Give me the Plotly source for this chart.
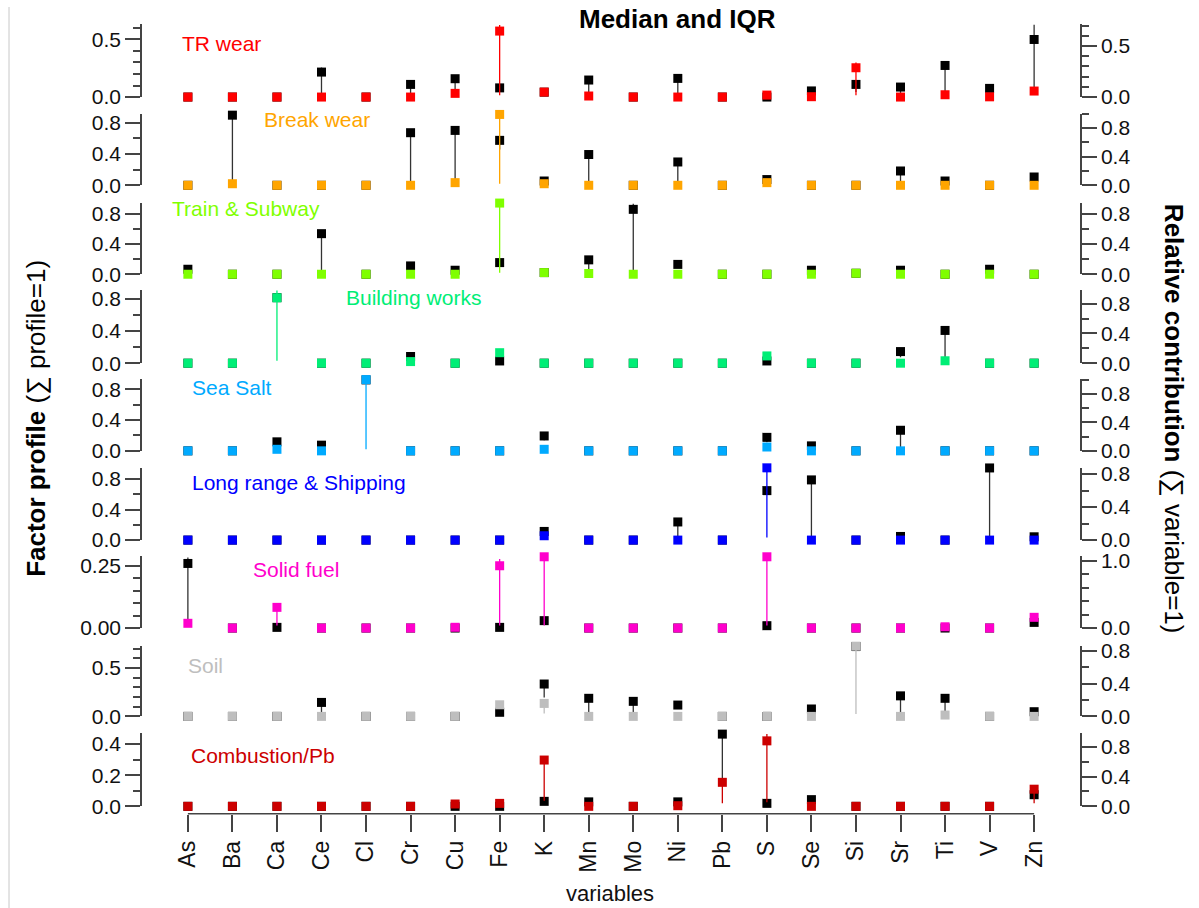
import plotly.graph_objects as go

# ---------------- data ----------------
VARS = ["As", "Ba", "Ca", "Ce", "Cl", "Cr", "Cu", "Fe", "K", "Mn",
        "Mo", "Ni", "Pb", "S", "Se", "Si", "Sr", "Ti", "V", "Zn"]

FACTORS = ["TR wear", "Break wear", "Train & Subway", "Building works", "Sea Salt",
           "Long range & Shipping", "Solid fuel", "Soil", "Combustion/Pb"]
COLORS = ["#FF0000", "#FFA500", "#7FFF00", "#00EE76", "#00AAFF",
          "#0000FF", "#FF00CC", "#BEBEBE", "#CC0000"]

# factor profile (coloured, left axis) medians
TR_PROF   = [0, 0, 0, 0, 0, 0, 0.032, 0.572, 0.043, 0.009, 0, 0, 0, 0.017, 0.003, 0.254, 0, 0.02, 0.002, 0.052]
BW_PROF   = [0, 0.02, 0, 0, 0, 0, 0.034, 0.906, 0.02, 0, 0, 0, 0, 0.034, 0, 0, 0, 0, 0, 0]
TS_PROF   = [0, 0, 0, 0, 0, 0, 0, 0.94, 0.022, 0.01, 0, 0, 0, 0, 0, 0.013, 0, 0, 0, 0]
BLD_PROF  = [0, 0, 0.81, 0, 0, 0.02, 0, 0.13, 0, 0, 0, 0, 0, 0.09, 0, 0, 0, 0.03, 0, 0]
SEA_PROF  = [0, 0, 0.02, 0, 0.925, 0, 0, 0, 0.02, 0, 0, 0, 0, 0.05, 0, 0, 0, 0, 0, 0]
LRS_PROF  = [0, 0, 0, 0, 0, 0, 0, 0, 0.057, 0, 0, 0, 0, 0.948, 0, 0, 0, 0, 0, 0]
SF_PROF   = [0.019, 0, 0.083, 0, 0, 0, 0.003, 0.25, 0.286, 0, 0, 0, 0, 0.286, 0, 0, 0, 0.005, 0, 0.043]
SOIL_PROF = [0, 0, 0, 0, 0, 0, 0, 0.12, 0.134, 0, 0, 0, 0, 0, 0, 0.725, 0, 0.014, 0, 0]
CPB_PROF  = [0, 0, 0, 0, 0, 0, 0.015, 0.019, 0.297, 0, 0, 0.004, 0.154, 0.42, 0, 0, 0, 0, 0, 0.11]

# relative contribution (black, right axis) medians
TR_CONTR   = [0, 0, 0, 0.245, 0, 0.124, 0.18, 0.09, 0.048, 0.167, 0, 0.183, 0, 0, 0.06, 0.124, 0.098, 0.31, 0.085, 0.565]
BW_CONTR   = [0, 0.98, 0, 0, 0, 0.735, 0.767, 0.628, 0.06, 0.43, 0, 0.326, 0, 0.08, 0, 0, 0.2, 0.06, 0, 0.116]
TS_CONTR   = [0.066, 0, 0, 0.536, 0, 0.11, 0.053, 0.154, 0.022, 0.19, 0.857, 0.13, 0, 0, 0.053, 0.013, 0.053, 0, 0.066, 0]
BLD_CONTR  = [0, 0, 0.88, 0, 0, 0.09, 0, 0.03, 0, 0, 0, 0, 0, 0.03, 0, 0, 0.156, 0.44, 0, 0]
SEA_CONTR  = [0, 0, 0.127, 0.08, 1.0, 0, 0, 0, 0.21, 0, 0, 0, 0, 0.19, 0.07, 0, 0.29, 0, 0, 0]
LRS_CONTR  = [0, 0, 0, 0, 0, 0, 0, 0, 0.105, 0, 0, 0.22, 0, 0.6, 0.73, 0, 0.044, 0, 0.875, 0.04]
SF_CONTR   = [0.96, 0, 0.01, 0, 0, 0, 0, 0.01, 0.11, 0, 0, 0, 0, 0.035, 0, 0, 0, 0, 0, 0.084]
SOIL_CONTR = [0, 0, 0, 0.17, 0, 0, 0, 0.05, 0.394, 0.22, 0.183, 0.138, 0, 0, 0.09, 0.85, 0.25, 0.22, 0, 0.057]
CPB_CONTR  = [0, 0, 0, 0, 0, 0, 0, 0, 0.067, 0.06, 0, 0.06, 0.97, 0.04, 0.09, 0, 0, 0, 0, 0.156]

# interquartile ranges (lower, upper) where visible
TR_PROF_IQR   = {"Fe": (0.015, 0.624), "Si": (0.015, 0.30)}
BW_PROF_IQR   = {"Fe": (0.02, 0.95)}
TS_PROF_IQR   = {"Fe": (0.02, 0.94)}
BLD_PROF_IQR  = {"Ca": (0.03, 0.90)}
SEA_PROF_IQR  = {"Cl": (0.02, 0.93)}
LRS_PROF_IQR  = {"S": (0.035, 0.96)}
SF_PROF_IQR   = {"Ca": (0.01, 0.083), "Fe": (0.01, 0.277), "K": (0.01, 0.297), "S": (0.01, 0.297)}
SOIL_PROF_IQR = {"K": (0.03, 0.14), "Si": (0.024, 0.73)}
CPB_PROF_IQR  = {"K": (0.036, 0.297), "Pb": (0.02, 0.154), "S": (0.026, 0.464), "Zn": (0.02, 0.12)}

TR_CONTR_IQR   = {"Ce": (0.01, 0.29), "Cr": (0.04, 0.13), "Cu": (0.06, 0.19), "Mn": (0.03, 0.20),
                  "Ni": (0.01, 0.22), "Si": (0.05, 0.14), "Sr": (0.04, 0.10), "Ti": (0.03, 0.343),
                  "Zn": (0.06, 0.712)}
BW_CONTR_IQR   = {"Ba": (0.02, 1.02), "Cr": (0.02, 0.75), "Cu": (0.03, 0.78), "Fe": (0.5, 0.69),
                  "Mn": (0.02, 0.44), "Ni": (0.0, 0.34), "Sr": (0.03, 0.21)}
TS_CONTR_IQR   = {"Ce": (0.02, 0.55), "Mn": (0.04, 0.20), "Mo": (0.02, 0.93), "Ni": (0.1, 0.14)}
BLD_CONTR_IQR  = {"Sr": (0.08, 0.16), "Ti": (0.03, 0.45)}
SEA_CONTR_IQR  = {"K": (0.15, 0.22), "S": (0.12, 0.20), "Sr": (0.04, 0.30)}
LRS_CONTR_IQR  = {"Ni": (0.02, 0.23), "Se": (0.0, 0.74), "V": (0.0, 0.875)}
SF_CONTR_IQR   = {"As": (0.07, 1.05)}
SOIL_CONTR_IQR = {"Ce": (0.03, 0.18), "K": (0.23, 0.42), "Mn": (0.03, 0.23), "Mo": (0.05, 0.19),
                  "Sr": (0.02, 0.26), "Ti": (0.05, 0.23)}
CPB_CONTR_IQR  = {"Pb": (0.35, 1.02)}

PROFS = [TR_PROF, BW_PROF, TS_PROF, BLD_PROF, SEA_PROF, LRS_PROF, SF_PROF, SOIL_PROF, CPB_PROF]
CONTRS = [TR_CONTR, BW_CONTR, TS_CONTR, BLD_CONTR, SEA_CONTR, LRS_CONTR, SF_CONTR, SOIL_CONTR, CPB_CONTR]
PROF_IQRS = [TR_PROF_IQR, BW_PROF_IQR, TS_PROF_IQR, BLD_PROF_IQR, SEA_PROF_IQR, LRS_PROF_IQR,
             SF_PROF_IQR, SOIL_PROF_IQR, CPB_PROF_IQR]
CONTR_IQRS = [TR_CONTR_IQR, BW_CONTR_IQR, TS_CONTR_IQR, BLD_CONTR_IQR, SEA_CONTR_IQR, LRS_CONTR_IQR,
              SF_CONTR_IQR, SOIL_CONTR_IQR, CPB_CONTR_IQR]

# axis ranges and ticks per panel
LEFT_TOP  = [0.63, 0.915, 0.945, 0.907, 0.93, 0.952, 0.29, 0.73, 0.468]
RIGHT_TOP = [0.713, 1.0, 0.945, 0.984, 1.01, 0.88, 1.074, 0.86, 0.98]
LEFT_DTICK = [0.5, 0.4, 0.4, 0.4, 0.4, 0.4, 0.25, 0.5, 0.2]
LEFT_MINOR = [0.1, 0.2, 0.2, 0.2, 0.2, 0.2, 0.05, 0.1, 0.1]
LEFT_FMT   = [".1f"] * 6 + [".2f", ".1f", ".1f"]
RIGHT_DTICK = [0.5, 0.4, 0.4, 0.4, 0.4, 0.4, 1.0, 0.4, 0.4]
RIGHT_MINOR = [0.1, 0.2, 0.2, 0.2, 0.2, 0.2, 0.2, 0.2, 0.2]

# ---------------- layout geometry (target pixels in the picture) ----------------
W, H = 1199, 920
Y_OFF, Y_SCALE = 5.9, 0.981
ZERO_PX = [96, 184.3, 273.3, 362.3, 450, 539.3, 627.3, 715.7, 805.7]
TOP_PX = [23.3, 112.7, 201.7, 289, 378.3, 466.7, 555, 645, 732.7]
LABEL_POS = [(180, 42), (262, 118), (170, 208), (344, 297), (190, 387),
             (190, 482), (251, 569), (186, 665), (189, 755)]
X_LEFT, X_RIGHT = 142, 1080
X_AXIS_PX = 813
FONT = "Liberation Sans, Arial, sans-serif"
AXC = "#444444"


def py(p):
    return 1 - ((p - Y_OFF) / Y_SCALE) / H


def px(p):
    return p / W


def iqr_err(med, iqr):
    plus, minus = [], []
    for v, m in zip(VARS, med):
        if v in iqr:
            lo, hi = iqr[v]
            plus.append(max(hi - m, 0))
            minus.append(max(m - lo, 0))
        else:
            plus.append(0)
            minus.append(0)
    return plus, minus


fig = go.Figure()
xs = list(range(len(VARS)))
layout = {}
annotations = []

for i in range(9):
    base = 2 * i + 1
    over = 2 * i + 2
    bname = "y" if base == 1 else f"y{base}"
    oname = f"y{over}"
    p, m = iqr_err(CONTRS[i], CONTR_IQRS[i])
    fig.add_trace(go.Scatter(
        x=xs, y=CONTRS[i], mode="markers", xaxis="x", yaxis=bname,
        marker=dict(symbol="square", size=9, color="#000000"),
        error_y=dict(type="data", symmetric=False, array=p, arrayminus=m,
                     color="#333333", thickness=1.3, width=0),
        cliponaxis=False, showlegend=False, hoverinfo="skip"))
    p, m = iqr_err(PROFS[i], PROF_IQRS[i])
    fig.add_trace(go.Scatter(
        x=xs, y=PROFS[i], mode="markers", xaxis="x", yaxis=oname,
        marker=dict(symbol="square", size=9, color=COLORS[i]),
        error_y=dict(type="data", symmetric=False, array=p, arrayminus=m,
                     color=COLORS[i], thickness=1.3, width=0),
        cliponaxis=False, showlegend=False, hoverinfo="skip"))

    common = dict(showgrid=False, zeroline=False, showline=True, linecolor=AXC, linewidth=1.5,
                  ticks="outside", ticklen=15, tickwidth=1.5, tickcolor=AXC,
                  tickfont=dict(family=FONT, size=21, color="#111111"), anchor="x")
    bkey = "yaxis" if base == 1 else f"yaxis{base}"
    layout[bkey] = dict(common, domain=[py(ZERO_PX[i]), py(TOP_PX[i])],
                        range=[0, RIGHT_TOP[i]], side="right",
                        tick0=0, dtick=RIGHT_DTICK[i], tickformat=".1f",
                        minor=dict(dtick=RIGHT_MINOR[i], tick0=0, ticks="outside", ticklen=7,
                                   tickwidth=1.5, tickcolor=AXC, showgrid=False))
    layout[f"yaxis{over}"] = dict(common, overlaying=bname, range=[0, LEFT_TOP[i]], side="left",
                                  tick0=0, dtick=LEFT_DTICK[i], tickformat=LEFT_FMT[i],
                                  minor=dict(dtick=LEFT_MINOR[i], tick0=0, ticks="outside", ticklen=7,
                                             tickwidth=1.5, tickcolor=AXC, showgrid=False))
    lx, ly = LABEL_POS[i]
    annotations.append(dict(text=FACTORS[i], x=px(lx), y=py(ly), xref="paper", yref="paper",
                            xanchor="left", yanchor="middle", showarrow=False,
                            font=dict(family=FONT, size=21, color=COLORS[i])))

layout["xaxis"] = dict(domain=[px(X_LEFT), px(X_RIGHT)], range=[-1.03, len(VARS) - 1 + 1.03],
                       anchor="free", position=py(X_AXIS_PX), tickmode="array", tickvals=xs,
                       ticktext=VARS, tickangle=-90, ticks="outside", ticklen=17, tickwidth=1.5,
                       tickcolor=AXC, showline=False, showgrid=False, zeroline=False,
                       tickfont=dict(family=FONT, size=23, color="#111111"))

annotations += [
    dict(text="<b>Median and IQR</b>", x=px(677), y=py(18), xref="paper", yref="paper",
         xanchor="center", yanchor="middle", showarrow=False,
         font=dict(family=FONT, size=26, color="#000000")),
    dict(text="variables", x=px(610), y=py(893), xref="paper", yref="paper",
         xanchor="center", yanchor="middle", showarrow=False,
         font=dict(family=FONT, size=22, color="#111111")),
    dict(text="<b>Factor profile</b> (\u2211 profile=1)", x=px(36), y=py(418), xref="paper",
         yref="paper", xanchor="center", yanchor="middle", showarrow=False, textangle=-90,
         font=dict(family=FONT, size=26, color="#000000")),
    dict(text="<b>Relative contribution</b> (\u2211 variable=1)", x=px(1174), y=py(418),
         xref="paper", yref="paper", xanchor="center", yanchor="middle", showarrow=False,
         textangle=90, font=dict(family=FONT, size=26, color="#000000")),
]

shapes = [
    dict(type="line", xref="x", yref="paper", x0=0, x1=len(VARS) - 1,
         y0=py(X_AXIS_PX), y1=py(X_AXIS_PX), line=dict(color=AXC, width=1.5)),
    dict(type="line", xref="paper", yref="paper", x0=px(9), x1=px(9), y0=0, y1=1,
         line=dict(color="#C8C8C8", width=1)),
]

fig.update_layout(width=W, height=H, margin=dict(l=0, r=0, t=0, b=0),
                  paper_bgcolor="white", plot_bgcolor="white",
                  annotations=annotations, shapes=shapes, **layout)

fig.write_html("out.html")
